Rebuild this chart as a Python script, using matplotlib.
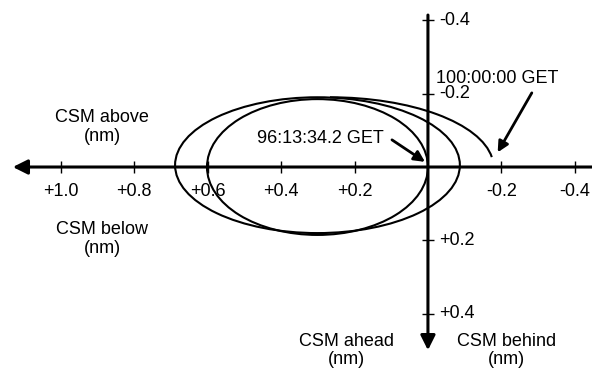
import matplotlib
matplotlib.use('Agg')
import matplotlib.pyplot as plt
from matplotlib.patches import Ellipse, Arc

plt.rcParams['font.family'] = ['Liberation Sans', 'DejaVu Sans']

# relative position data (nm), x: + = CSM ahead (left), y: + = CSM below (down)
x_ticks = [1.0, 0.8, 0.6, 0.4, 0.2, -0.2, -0.4]
x_tick_labels = ['+1.0', '+0.8', '+0.6', '+0.4', '+0.2', '-0.2', '-0.4']
y_ticks = [-0.4, -0.2, 0.2, 0.4]
y_tick_labels = ['-0.4', '-0.2', '+0.2', '+0.4']

# the two loops: center x, center y, half width, half height
loop_centers_x = [0.301, 0.301]
loop_centers_y = [0.0, -0.005]
loop_half_widths = [0.301, 0.388]
loop_half_heights = [0.185, 0.185]

# last partial loop up to 100:00:00 GET
tail_center = (0.267, 0.0)
tail_half_width = 0.4455
tail_half_height = 0.19
tail_angles = (-176.5, -90.0)

start_point = (0.0, 0.0)
end_point = (-0.174, -0.027)


def setup_figure() -> tuple[plt.Figure, plt.Axes]:
    fig = plt.figure(figsize=(5.92, 3.70), dpi=100)
    ax = fig.add_axes([0, 0, 1, 1])
    ax.set_xlim(1.166, -0.447)
    ax.set_ylim(0.553, -0.455)
    ax.axis('off')
    return fig, ax


fig, ax = setup_figure()
fs = 13
tick_len = 0.017

# axes with arrow heads
arrow_kw = dict(arrowstyle='-|>', lw=2.2, color='k', mutation_scale=22, shrinkA=0, shrinkB=0)
ax.annotate('', xy=(1.131, 0), xytext=(-0.447, 0), arrowprops=arrow_kw)
ax.annotate('', xy=(0, 0.499), xytext=(0, -0.414), arrowprops=arrow_kw)

ax.vlines(x_ticks, -tick_len, tick_len, color='k', lw=1.0)
ax.hlines(y_ticks, -tick_len, tick_len, color='k', lw=1.0)
for xt, lab in zip(x_ticks, x_tick_labels):
    ax.text(xt, 0.068, lab, ha='center', va='center', fontsize=fs)
for yt, lab in zip(y_ticks, y_tick_labels):
    ax.text(-0.03, yt, lab, ha='left', va='center', fontsize=fs)

for cx, cy, hw, hh in zip(loop_centers_x, loop_centers_y, loop_half_widths, loop_half_heights):
    ax.add_patch(Ellipse((cx, cy), 2 * hw, 2 * hh, fill=False, ec='k', lw=1.5))

ax.add_patch(Arc(tail_center, 2 * tail_half_width, 2 * tail_half_height,
                 theta1=tail_angles[0], theta2=tail_angles[1], ec='k', lw=1.5))

# labels around the axes
ax.text(0.887, -0.109, 'CSM above\n(nm)', ha='center', va='center', fontsize=fs, linespacing=1.1)
ax.text(0.887, 0.196, 'CSM below\n(nm)', ha='center', va='center', fontsize=fs, linespacing=1.1)
ax.text(0.221, 0.50, 'CSM ahead\n(nm)', ha='center', va='center', fontsize=fs, linespacing=1.1)
ax.text(-0.213, 0.50, 'CSM behind\n(nm)', ha='center', va='center', fontsize=fs, linespacing=1.1)

# event annotations
note_kw = dict(arrowstyle='-|>', lw=2.0, color='k', mutation_scale=16, shrinkA=0, shrinkB=0)
ax.text(0.294, -0.079, '96:13:34.2 GET', ha='center', va='center', fontsize=fs)
ax.annotate('', xy=(0.008, -0.014), xytext=(0.098, -0.074), arrowprops=note_kw)
ax.text(-0.188, -0.240, '100:00:00 GET', ha='center', va='center', fontsize=fs)
ax.annotate('', xy=(-0.19, -0.04), xytext=(-0.283, -0.202), arrowprops=note_kw)

plt.savefig('out.png', dpi=100)
